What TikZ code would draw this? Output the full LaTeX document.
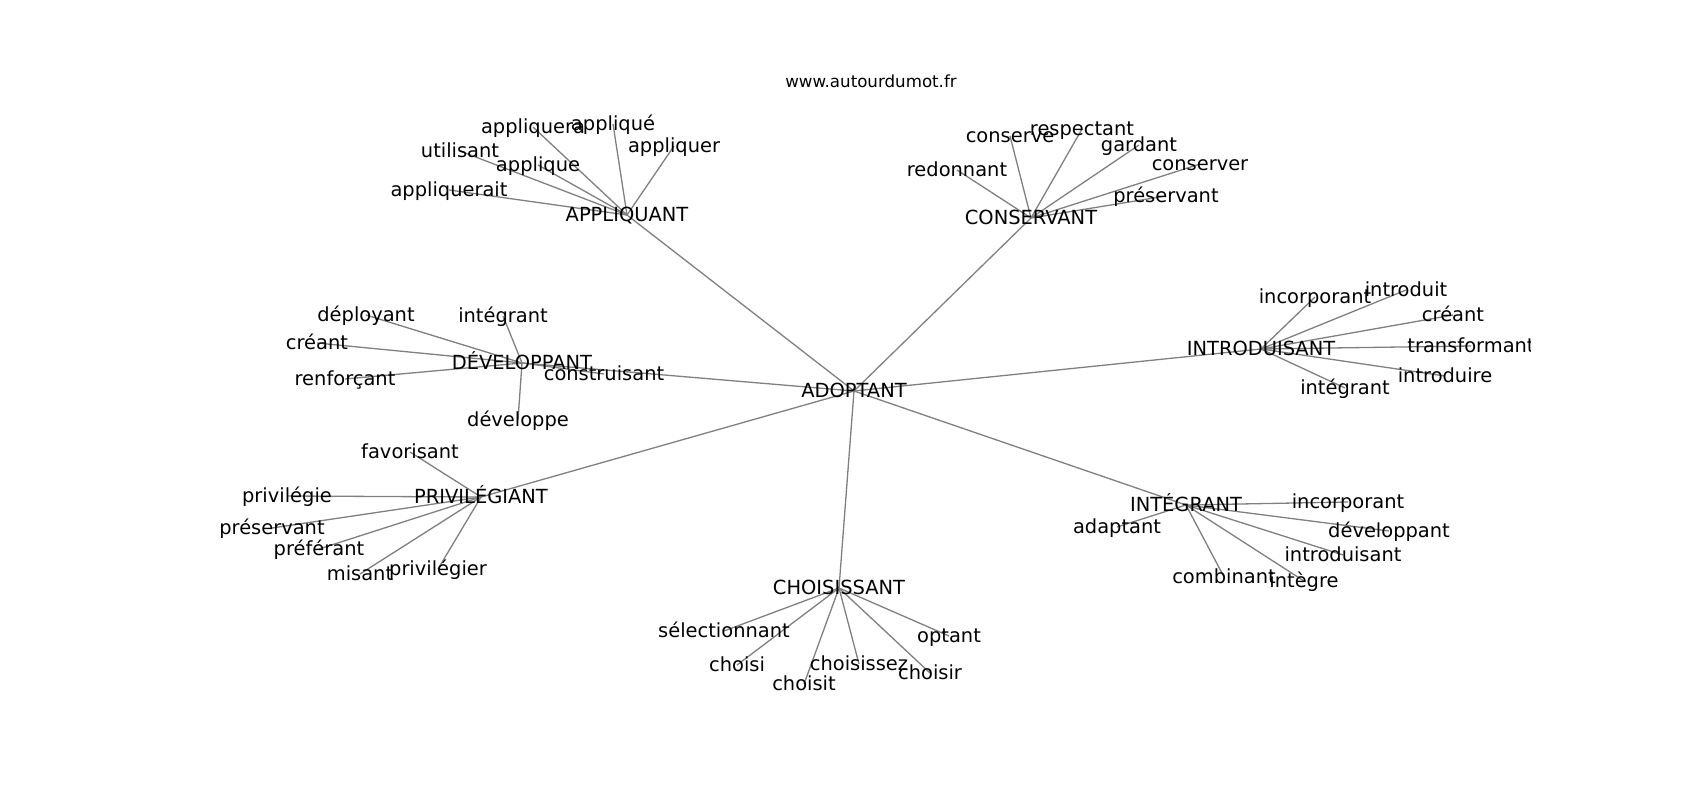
\documentclass[tikz,border=0pt]{standalone}
\usepackage{fontspec}
\setmainfont{DejaVu Sans}
\begin{document}
\begin{tikzpicture}[x=1pt,y=-1pt,
  lbl/.style={font=\fontsize{19.44}{23}\selectfont, inner sep=0pt, anchor=base, text=black},
  ttl/.style={font=\fontsize{16.67}{20}\selectfont, inner sep=0pt, anchor=base, text=black},
  edge/.style={draw=gray, line width=1.3pt}]
\useasboundingbox[fill=white] (0,0) rectangle (1700,800);
% graph node positions
\coordinate (ad) at (854,391);
\coordinate (ap) at (627,215);
\coordinate (co) at (1031,218);
\coordinate (in) at (1261,349);
\coordinate (de) at (522,363);
\coordinate (pr) at (481,497);
\coordinate (ch) at (839,588);
\coordinate (ig) at (1186,505);
\coordinate (ap1) at (449,190);
\coordinate (ap2) at (460,151);
\coordinate (ap3) at (538,165);
\coordinate (ap4) at (533,127);
\coordinate (ap5) at (613,124);
\coordinate (ap6) at (674,146);
\coordinate (co1) at (957,170);
\coordinate (co2) at (1010,136);
\coordinate (co3) at (1082,129);
\coordinate (co4) at (1139,145);
\coordinate (co5) at (1200,164);
\coordinate (co6) at (1166,196);
\coordinate (in1) at (1315,297);
\coordinate (in2) at (1406,290);
\coordinate (in3) at (1453,315);
\coordinate (in4) at (1471,346);
\coordinate (in5) at (1445,376);
\coordinate (in6) at (1345,388);
\coordinate (de1) at (366,315);
\coordinate (de2) at (503,316);
\coordinate (de3) at (317,343);
\coordinate (de4) at (345,379);
\coordinate (de5) at (604,374);
\coordinate (de6) at (518,420);
\coordinate (pr1) at (410,452);
\coordinate (pr2) at (287,496);
\coordinate (pr3) at (272,528);
\coordinate (pr4) at (319,549);
\coordinate (pr5) at (360,574);
\coordinate (pr6) at (438,569);
\coordinate (ch1) at (724,631);
\coordinate (ch2) at (737,665);
\coordinate (ch3) at (804,684);
\coordinate (ch4) at (859,664);
\coordinate (ch5) at (930,673);
\coordinate (ch6) at (949,636);
\coordinate (ig1) at (1348,502);
\coordinate (ig2) at (1117,527);
\coordinate (ig3) at (1389,531);
\coordinate (ig4) at (1343,555);
\coordinate (ig5) at (1224,577);
\coordinate (ig6) at (1304,581);
% edges
\foreach \h in {ap,co,in,de,pr,ch,ig} {\draw[edge] (ad) -- (\h);}
\foreach \h in {ap,co,in,de,pr,ch,ig} {
  \foreach \i in {1,...,6} {\draw[edge] (\h) -- (\h\i);}
}
% labels
\node[ttl] (title) at (871,87.5) {www.autourdumot.fr};
\begin{scope}
\clip (212.5,96) rectangle (1530,712);
\node[lbl] (t-ad) at ([yshift=-6pt]ad) {ADOPTANT};
\node[lbl] (t-ap) at ([yshift=-6pt]ap) {APPLIQUANT};
\node[lbl] (t-co) at ([yshift=-6pt]co) {CONSERVANT};
\node[lbl] (t-in) at ([yshift=-6pt]in) {INTRODUISANT};
\node[lbl] (t-de) at ([yshift=-6pt]de) {DÉVELOPPANT};
\node[lbl] (t-pr) at ([yshift=-6pt]pr) {PRIVILÉGIANT};
\node[lbl] (t-ch) at ([yshift=-6pt]ch) {CHOISISSANT};
\node[lbl] (t-ig) at ([yshift=-6pt]ig) {INTÉGRANT};
\node[lbl] (t-ap1) at ([yshift=-6pt]ap1) {appliquerait};
\node[lbl] (t-ap2) at ([yshift=-6pt]ap2) {utilisant};
\node[lbl] (t-ap3) at ([yshift=-6pt]ap3) {applique};
\node[lbl] (t-ap4) at ([yshift=-6pt]ap4) {appliquera};
\node[lbl] (t-ap5) at ([yshift=-6pt]ap5) {appliqué};
\node[lbl] (t-ap6) at ([yshift=-6pt]ap6) {appliquer};
\node[lbl] (t-co1) at ([yshift=-6pt]co1) {redonnant};
\node[lbl] (t-co2) at ([yshift=-6pt]co2) {conserve};
\node[lbl] (t-co3) at ([yshift=-6pt]co3) {respectant};
\node[lbl] (t-co4) at ([yshift=-6pt]co4) {gardant};
\node[lbl] (t-co5) at ([yshift=-6pt]co5) {conserver};
\node[lbl] (t-co6) at ([yshift=-6pt]co6) {préservant};
\node[lbl] (t-in1) at ([yshift=-6pt]in1) {incorporant};
\node[lbl] (t-in2) at ([yshift=-6pt]in2) {introduit};
\node[lbl] (t-in3) at ([yshift=-6pt]in3) {créant};
\node[lbl] (t-in4) at ([yshift=-6pt]in4) {transformant};
\node[lbl] (t-in5) at ([yshift=-6pt]in5) {introduire};
\node[lbl] (t-in6) at ([yshift=-6pt]in6) {intégrant};
\node[lbl] (t-de1) at ([yshift=-6pt]de1) {déployant};
\node[lbl] (t-de2) at ([yshift=-6pt]de2) {intégrant};
\node[lbl] (t-de3) at ([yshift=-6pt]de3) {créant};
\node[lbl] (t-de4) at ([yshift=-6pt]de4) {renforçant};
\node[lbl] (t-de5) at ([yshift=-6pt]de5) {construisant};
\node[lbl] (t-de6) at ([yshift=-6pt]de6) {développe};
\node[lbl] (t-pr1) at ([yshift=-6pt]pr1) {favorisant};
\node[lbl] (t-pr2) at ([yshift=-6pt]pr2) {privilégie};
\node[lbl] (t-pr3) at ([yshift=-6pt]pr3) {préservant};
\node[lbl] (t-pr4) at ([yshift=-6pt]pr4) {préférant};
\node[lbl] (t-pr5) at ([yshift=-6pt]pr5) {misant};
\node[lbl] (t-pr6) at ([yshift=-6pt]pr6) {privilégier};
\node[lbl] (t-ch1) at ([yshift=-6pt]ch1) {sélectionnant};
\node[lbl] (t-ch2) at ([yshift=-6pt]ch2) {choisi};
\node[lbl] (t-ch3) at ([yshift=-6pt]ch3) {choisit};
\node[lbl] (t-ch4) at ([yshift=-6pt]ch4) {choisissez};
\node[lbl] (t-ch5) at ([yshift=-6pt]ch5) {choisir};
\node[lbl] (t-ch6) at ([yshift=-6pt]ch6) {optant};
\node[lbl] (t-ig1) at ([yshift=-6pt]ig1) {incorporant};
\node[lbl] (t-ig2) at ([yshift=-6pt]ig2) {adaptant};
\node[lbl] (t-ig3) at ([yshift=-6pt]ig3) {développant};
\node[lbl] (t-ig4) at ([yshift=-6pt]ig4) {introduisant};
\node[lbl] (t-ig5) at ([yshift=-6pt]ig5) {combinant};
\node[lbl] (t-ig6) at ([yshift=-6pt]ig6) {intègre};
\end{scope}
\end{tikzpicture}
\end{document}
